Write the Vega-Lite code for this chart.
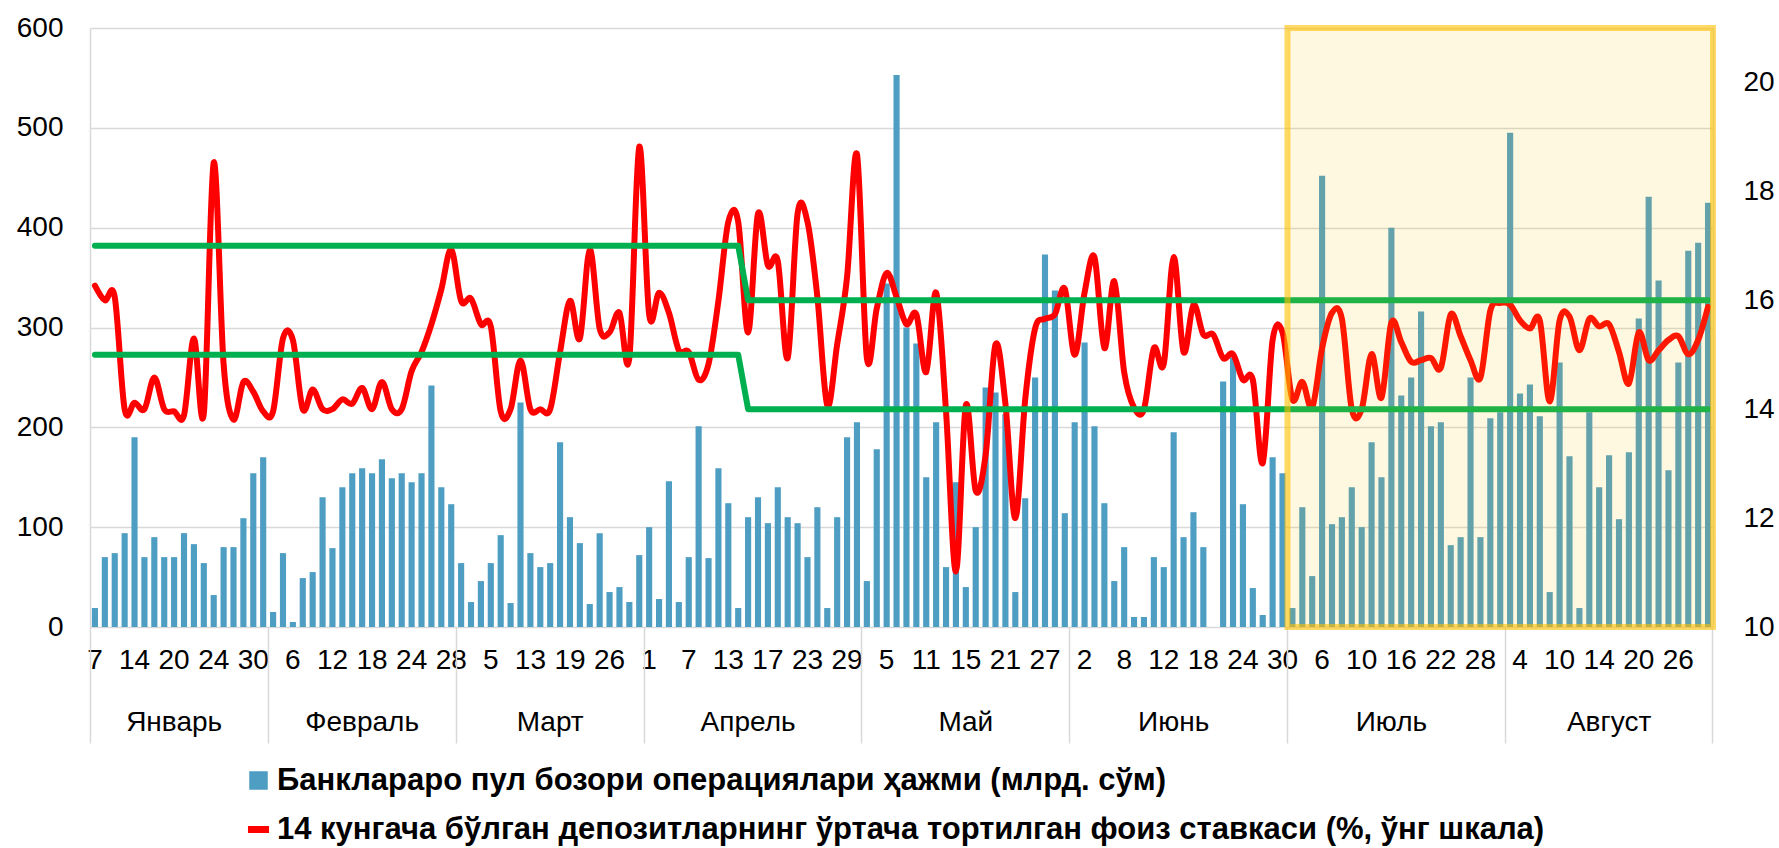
{
"$schema": "https://vega.github.io/schema/vega-lite/v6.json",
"width": 1623,
"height": 599,
"autosize": {"type": "none"},
"padding": {"left": 90, "top": 28, "right": 66, "bottom": 221},
"background": "#ffffff",
"config": {
  "view": {"stroke": null},
  "font": "Liberation Sans",
  "axis": {"labelFont": "Liberation Sans", "labelFontSize": 28, "labelColor": "#000000", "title": null},
  "legend": {"labelFont": "Liberation Sans"}
},
"data": {"values": [
{"d":"01-07","v":19,"r":16.27,"u":17,"l":15},
{"d":"01-08","v":70,"r":16.0,"u":17,"l":15},
{"d":"01-09","v":74,"r":16.06,"u":17,"l":15},
{"d":"01-10","v":94,"r":14.0,"u":17,"l":15},
{"d":"01-14","v":190,"r":14.12,"u":17,"l":15},
{"d":"01-15","v":70,"r":14.0,"u":17,"l":15},
{"d":"01-16","v":90,"r":14.58,"u":17,"l":15},
{"d":"01-17","v":70,"r":14.0,"u":17,"l":15},
{"d":"01-20","v":70,"r":13.96,"u":17,"l":15},
{"d":"01-21","v":94,"r":13.89,"u":17,"l":15},
{"d":"01-22","v":83,"r":15.3,"u":17,"l":15},
{"d":"01-23","v":64,"r":13.92,"u":17,"l":15},
{"d":"01-24","v":32,"r":18.53,"u":17,"l":15},
{"d":"01-25","v":80,"r":14.83,"u":17,"l":15},
{"d":"01-28","v":80,"r":13.81,"u":17,"l":15},
{"d":"01-29","v":109,"r":14.5,"u":17,"l":15},
{"d":"01-30","v":154,"r":14.32,"u":17,"l":15},
{"d":"01-31","v":170,"r":13.96,"u":17,"l":15},
{"d":"02-01","v":15,"r":13.96,"u":17,"l":15},
{"d":"02-04","v":74,"r":15.3,"u":17,"l":15},
{"d":"02-06","v":5,"r":15.27,"u":17,"l":15},
{"d":"02-07","v":49,"r":14.0,"u":17,"l":15},
{"d":"02-08","v":55,"r":14.36,"u":17,"l":15},
{"d":"02-11","v":130,"r":14.0,"u":17,"l":15},
{"d":"02-12","v":79,"r":14.0,"u":17,"l":15},
{"d":"02-13","v":140,"r":14.18,"u":17,"l":15},
{"d":"02-14","v":154,"r":14.1,"u":17,"l":15},
{"d":"02-15","v":159,"r":14.39,"u":17,"l":15},
{"d":"02-18","v":154,"r":14.0,"u":17,"l":15},
{"d":"02-19","v":168,"r":14.5,"u":17,"l":15},
{"d":"02-20","v":149,"r":14.0,"u":17,"l":15},
{"d":"02-21","v":154,"r":14.0,"u":17,"l":15},
{"d":"02-24","v":145,"r":14.7,"u":17,"l":15},
{"d":"02-25","v":154,"r":15.05,"u":17,"l":15},
{"d":"02-26","v":242,"r":15.56,"u":17,"l":15},
{"d":"02-27","v":140,"r":16.2,"u":17,"l":15},
{"d":"02-28","v":123,"r":16.93,"u":17,"l":15},
{"d":"03-01","v":64,"r":15.99,"u":17,"l":15},
{"d":"03-02","v":25,"r":16.03,"u":17,"l":15},
{"d":"03-04","v":46,"r":15.56,"u":17,"l":15},
{"d":"03-05","v":64,"r":15.52,"u":17,"l":15},
{"d":"03-06","v":92,"r":13.96,"u":17,"l":15},
{"d":"03-07","v":24,"r":14.0,"u":17,"l":15},
{"d":"03-12","v":225,"r":14.9,"u":17,"l":15},
{"d":"03-13","v":74,"r":14.0,"u":17,"l":15},
{"d":"03-14","v":60,"r":14.0,"u":17,"l":15},
{"d":"03-15","v":64,"r":14.0,"u":17,"l":15},
{"d":"03-18","v":185,"r":15.05,"u":17,"l":15},
{"d":"03-19","v":110,"r":15.99,"u":17,"l":15},
{"d":"03-20","v":84,"r":15.3,"u":17,"l":15},
{"d":"03-22","v":23,"r":16.93,"u":17,"l":15},
{"d":"03-25","v":94,"r":15.48,"u":17,"l":15},
{"d":"03-26","v":35,"r":15.41,"u":17,"l":15},
{"d":"03-27","v":40,"r":15.77,"u":17,"l":15},
{"d":"03-28","v":25,"r":14.94,"u":17,"l":15},
{"d":"03-29","v":72,"r":18.82,"u":17,"l":15},
{"d":"04-01","v":100,"r":15.74,"u":17,"l":15},
{"d":"04-02","v":28,"r":16.14,"u":17,"l":15},
{"d":"04-03","v":146,"r":15.77,"u":17,"l":15},
{"d":"04-04","v":25,"r":15.08,"u":17,"l":15},
{"d":"04-07","v":70,"r":15.05,"u":17,"l":15},
{"d":"04-08","v":201,"r":14.54,"u":17,"l":15},
{"d":"04-09","v":69,"r":14.83,"u":17,"l":15},
{"d":"04-10","v":159,"r":15.99,"u":17,"l":15},
{"d":"04-13","v":124,"r":17.44,"u":17,"l":15},
{"d":"04-14","v":19,"r":17.44,"u":17,"l":15},
{"d":"04-15","v":110,"r":15.41,"u":16,"l":14},
{"d":"04-16","v":130,"r":17.59,"u":16,"l":14},
{"d":"04-17","v":104,"r":16.64,"u":16,"l":14},
{"d":"04-18","v":140,"r":16.72,"u":16,"l":14},
{"d":"04-19","v":110,"r":14.94,"u":16,"l":14},
{"d":"04-22","v":104,"r":17.59,"u":16,"l":14},
{"d":"04-23","v":70,"r":17.44,"u":16,"l":14},
{"d":"04-24","v":120,"r":16.06,"u":16,"l":14},
{"d":"04-25","v":19,"r":14.07,"u":16,"l":14},
{"d":"04-26","v":110,"r":15.19,"u":16,"l":14},
{"d":"04-29","v":190,"r":16.43,"u":16,"l":14},
{"d":"04-30","v":205,"r":18.68,"u":16,"l":14},
{"d":"05-02","v":46,"r":14.94,"u":16,"l":14},
{"d":"05-03","v":178,"r":15.85,"u":16,"l":14},
{"d":"05-05","v":344,"r":16.5,"u":16,"l":14},
{"d":"05-06","v":553,"r":16.06,"u":16,"l":14},
{"d":"05-07","v":300,"r":15.56,"u":16,"l":14},
{"d":"05-08","v":284,"r":15.74,"u":16,"l":14},
{"d":"05-11","v":150,"r":14.68,"u":16,"l":14},
{"d":"05-12","v":205,"r":16.14,"u":16,"l":14},
{"d":"05-13","v":60,"r":13.96,"u":16,"l":14},
{"d":"05-14","v":145,"r":11.02,"u":16,"l":14},
{"d":"05-15","v":40,"r":14.07,"u":16,"l":14},
{"d":"05-16","v":100,"r":12.5,"u":16,"l":14},
{"d":"05-17","v":240,"r":13.16,"u":16,"l":14},
{"d":"05-20","v":235,"r":15.19,"u":16,"l":14},
{"d":"05-21","v":213,"r":14.1,"u":16,"l":14},
{"d":"05-22","v":35,"r":12.0,"u":16,"l":14},
{"d":"05-23","v":129,"r":14.18,"u":16,"l":14},
{"d":"05-24","v":250,"r":15.48,"u":16,"l":14},
{"d":"05-27","v":373,"r":15.66,"u":16,"l":14},
{"d":"05-29","v":337,"r":15.74,"u":16,"l":14},
{"d":"05-31","v":114,"r":16.21,"u":16,"l":14},
{"d":"06-01","v":205,"r":15.0,"u":16,"l":14},
{"d":"06-02","v":285,"r":16.14,"u":16,"l":14},
{"d":"06-03","v":201,"r":16.79,"u":16,"l":14},
{"d":"06-04","v":124,"r":15.12,"u":16,"l":14},
{"d":"06-07","v":46,"r":16.35,"u":16,"l":14},
{"d":"06-08","v":80,"r":14.68,"u":16,"l":14},
{"d":"06-09","v":10,"r":14.03,"u":16,"l":14},
{"d":"06-10","v":10,"r":14.0,"u":16,"l":14},
{"d":"06-11","v":70,"r":15.12,"u":16,"l":14},
{"d":"06-12","v":60,"r":14.83,"u":16,"l":14},
{"d":"06-13","v":195,"r":16.79,"u":16,"l":14},
{"d":"06-14","v":90,"r":15.05,"u":16,"l":14},
{"d":"06-17","v":115,"r":15.92,"u":16,"l":14},
{"d":"06-18","v":80,"r":15.37,"u":16,"l":14},
{"d":"06-19","v":null,"r":15.37,"u":16,"l":14},
{"d":"06-20","v":246,"r":14.94,"u":16,"l":14},
{"d":"06-21","v":270,"r":15.01,"u":16,"l":14},
{"d":"06-24","v":123,"r":14.54,"u":16,"l":14},
{"d":"06-25","v":39,"r":14.54,"u":16,"l":14},
{"d":"06-26","v":12,"r":13.01,"u":16,"l":14},
{"d":"06-28","v":170,"r":15.27,"u":16,"l":14},
{"d":"06-30","v":154,"r":15.41,"u":16,"l":14},
{"d":"07-01","v":19,"r":14.18,"u":16,"l":14},
{"d":"07-02","v":120,"r":14.5,"u":16,"l":14},
{"d":"07-04","v":51,"r":14.03,"u":16,"l":14},
{"d":"07-06","v":452,"r":15.12,"u":16,"l":14},
{"d":"07-07","v":103,"r":15.77,"u":16,"l":14},
{"d":"07-08","v":110,"r":15.66,"u":16,"l":14},
{"d":"07-09","v":140,"r":14.0,"u":16,"l":14},
{"d":"07-10","v":100,"r":14.0,"u":16,"l":14},
{"d":"07-11","v":185,"r":15.01,"u":16,"l":14},
{"d":"07-12","v":150,"r":14.21,"u":16,"l":14},
{"d":"07-15","v":400,"r":15.59,"u":16,"l":14},
{"d":"07-16","v":232,"r":15.23,"u":16,"l":14},
{"d":"07-17","v":250,"r":14.87,"u":16,"l":14},
{"d":"07-18","v":316,"r":14.9,"u":16,"l":14},
{"d":"07-19","v":201,"r":14.94,"u":16,"l":14},
{"d":"07-22","v":205,"r":14.76,"u":16,"l":14},
{"d":"07-23","v":82,"r":15.74,"u":16,"l":14},
{"d":"07-24","v":90,"r":15.34,"u":16,"l":14},
{"d":"07-25","v":250,"r":14.9,"u":16,"l":14},
{"d":"07-28","v":90,"r":14.58,"u":16,"l":14},
{"d":"07-29","v":209,"r":15.81,"u":16,"l":14},
{"d":"07-31","v":215,"r":15.95,"u":16,"l":14},
{"d":"08-02","v":495,"r":15.92,"u":16,"l":14},
{"d":"08-04","v":234,"r":15.63,"u":16,"l":14},
{"d":"08-05","v":243,"r":15.48,"u":16,"l":14},
{"d":"08-06","v":211,"r":15.63,"u":16,"l":14},
{"d":"08-07","v":35,"r":14.14,"u":16,"l":14},
{"d":"08-10","v":265,"r":15.63,"u":16,"l":14},
{"d":"08-11","v":171,"r":15.7,"u":16,"l":14},
{"d":"08-12","v":19,"r":15.08,"u":16,"l":14},
{"d":"08-13","v":215,"r":15.66,"u":16,"l":14},
{"d":"08-14","v":140,"r":15.52,"u":16,"l":14},
{"d":"08-15","v":172,"r":15.56,"u":16,"l":14},
{"d":"08-16","v":108,"r":15.05,"u":16,"l":14},
{"d":"08-19","v":175,"r":14.47,"u":16,"l":14},
{"d":"08-20","v":309,"r":15.41,"u":16,"l":14},
{"d":"08-21","v":431,"r":14.9,"u":16,"l":14},
{"d":"08-22","v":347,"r":15.08,"u":16,"l":14},
{"d":"08-23","v":157,"r":15.27,"u":16,"l":14},
{"d":"08-26","v":265,"r":15.34,"u":16,"l":14},
{"d":"08-27","v":377,"r":15.01,"u":16,"l":14},
{"d":"08-28","v":385,"r":15.27,"u":16,"l":14},
{"d":"08-29","v":425,"r":15.88,"u":16,"l":14}
]},
"layer": [
  {
    "mark": {"type": "bar"},
    "encoding": {
      "x": {"field": "d", "type": "ordinal",
        "scale": {"type": "band", "paddingInner": 0.38, "paddingOuter": 0.19},
        "axis": {"orient": "bottom",
          "values": ["01-07","01-14","01-20","01-24","01-30","02-06","02-12","02-18","02-24","02-28","03-05","03-13","03-19","03-26","04-01","04-07","04-13","04-17","04-23","04-29","05-05","05-11","05-15","05-21","05-27","06-02","06-08","06-12","06-18","06-24","06-30","07-06","07-10","07-16","07-22","07-28","08-04","08-10","08-14","08-20","08-26"],
          "labelExpr": "toNumber(slice(datum.value, 3))",
          "ticks": false, "tickSize": 0, "domain": false, "grid": false,
          "labelAngle": 0, "labelPadding": 19, "labelOverlap": false, "labelBound": false, "labelFlush": false, "title": null}},
      "y": {"field": "v", "type": "quantitative",
        "scale": {"domain": [0, 600], "nice": false},
        "axis": {"orient": "left", "values": [0, 100, 200, 300, 400, 500, 600], "grid": true, "gridColor": "#D9D9D9", "gridWidth": 1.5,
          "domain": true, "domainColor": "#D9D9D9", "domainWidth": 1.5, "ticks": false, "labelPadding": 27, "title": null}},
      "color": {"datum": "Банклараро пул бозори операциялари ҳажми (млрд. сўм)", "type": "nominal",
        "scale": {"domain": ["Банклараро пул бозори операциялари ҳажми (млрд. сўм)", "14 кунгача бўлган депозитларнинг ўртача тортилган фоиз ставкаси (%, ўнг шкала)"], "range": ["#4E9DC3", "#FF0000"]},
        "legend": {"orient": "none", "legendX": 153, "legendY": 737, "title": null, "direction": "vertical",
          "labelFontSize": 31, "labelFontWeight": "bold", "labelColor": "#000000", "labelLimit": 3000,
          "symbolSize": 289, "labelOffset": 3, "rowPadding": 17, "padding": 0,
          "encode": {"symbols": {"update": {
            "shape": {"signal": "slice(datum.value, 0, 2) === '14' ? 'M-1.15,-0.32H1.15V0.32H-1.15Z' : 'square'"},
            "fill": {"signal": "slice(datum.value, 0, 2) === '14' ? '#FF0000' : '#4E9DC3'"},
            "stroke": {"value": "transparent"},
            "opacity": {"value": 1}}}}}}
    }
  },
  {
    "mark": {"type": "line", "strokeWidth": 6, "interpolate": "cardinal", "strokeCap": "round", "strokeJoin": "round"},
    "encoding": {
      "x": {"field": "d", "type": "ordinal", "scale": {"type": "band"},
        "axis": {"orient": "bottom", "values": ["01-31","02-28","03-29","04-30","05-31","06-30","07-31","08-29"],
          "bandPosition": 1.306, "labels": false, "ticks": true, "tickSize": 116, "tickColor": "#D9D9D9", "tickWidth": 1.5,
          "domain": false, "grid": false, "title": null}},
      "y": {"field": "r", "type": "quantitative",
        "scale": {"domain": [10, 21], "nice": false, "zero": false},
        "axis": {"orient": "right", "values": [10, 12, 14, 16, 18, 20], "grid": false, "domain": true, "domainColor": "#D9D9D9", "domainWidth": 1.5,
          "ticks": false, "labelPadding": 30, "title": null}},
      "color": {"datum": "14 кунгача бўлган депозитларнинг ўртача тортилган фоиз ставкаси (%, ўнг шкала)", "type": "nominal"}
    }
  },
  {
    "transform": [{"fold": ["u", "l"], "as": ["band", "rate"]}],
    "mark": {"type": "line", "color": "#00B050", "strokeWidth": 6, "strokeCap": "round", "strokeJoin": "round"},
    "encoding": {
      "x": {"field": "d", "type": "ordinal", "scale": {"type": "band"},
        "axis": {"orient": "bottom", "values": ["01-20","02-15","03-15","04-15","05-15","06-13","07-15","08-15"],
          "labelExpr": "slice(datum.value,0,2)=='01' ? 'Январь' : slice(datum.value,0,2)=='02' ? 'Февраль' : slice(datum.value,0,2)=='03' ? 'Март' : slice(datum.value,0,2)=='04' ? 'Апрель' : slice(datum.value,0,2)=='05' ? 'Май' : slice(datum.value,0,2)=='06' ? 'Июнь' : slice(datum.value,0,2)=='07' ? 'Июль' : 'Август'",
          "ticks": false, "tickSize": 0, "domain": false, "grid": false, "labelAngle": 0, "labelPadding": 81,
          "labelOverlap": false, "labelBound": false, "labelFlush": false, "title": null}},
      "y": {"field": "rate", "type": "quantitative", "scale": {"domain": [10, 21], "nice": false, "zero": false}, "axis": null},
      "detail": {"field": "band", "type": "nominal"}
    }
  },
  {
    "data": {"values": [{"start": "07-01", "end": "08-29"}]},
    "mark": {"type": "rect", "fill": "#FFC300", "fillOpacity": 0.12, "stroke": "#FFC000", "strokeOpacity": 0.6, "strokeWidth": 6},
    "encoding": {
      "x": {"field": "start", "type": "ordinal", "bandPosition": -0.306,
        "axis": {"orient": "bottom", "values": ["01-07"], "bandPosition": -0.306, "labels": false, "ticks": true, "tickSize": 116,
          "tickColor": "#D9D9D9", "tickWidth": 1.5, "domain": false, "grid": false, "title": null}},
      "x2": {"field": "end", "bandPosition": 1.306},
      "y": {"datum": 600, "type": "quantitative", "scale": {"domain": [0, 600], "nice": false}, "axis": null},
      "y2": {"datum": 0}
    }
  }
],
"resolve": {"scale": {"y": "independent"}, "axis": {"x": "independent", "y": "independent"}}
}
